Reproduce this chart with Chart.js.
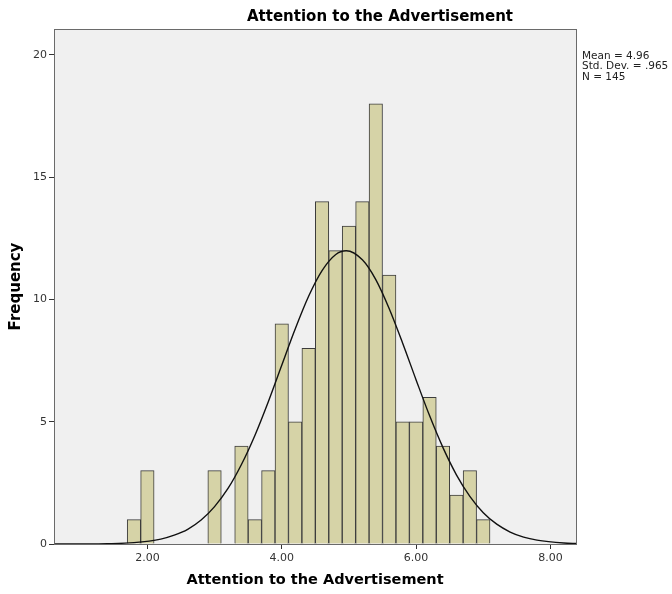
<!DOCTYPE html>
<html>
<head>
<meta charset="utf-8">
<script src="https://cdn.jsdelivr.net/npm/chart.js@4/dist/chart.umd.min.js"></script>
<style>
  html, body { margin: 0; padding: 0; background: #fff; }
  #wrap { width: 672px; height: 594px; }
</style>
</head>
<body>
<div id="wrap"><canvas id="hist"></canvas></div>
<script>
// histogram bins (centre of each 0.2 wide bin) and counts
const binCenters = [1.8, 2.0, 3.0, 3.4, 3.6, 3.8, 4.0, 4.2, 4.4, 4.6, 4.8, 5.0, 5.2, 5.4, 5.6, 5.8, 6.0, 6.2, 6.4, 6.6, 6.8, 7.0];
const binCounts = [1, 3, 3, 4, 1, 3, 9, 5, 8, 14, 12, 13, 14, 18, 11, 5, 5, 6, 4, 2, 3, 1];

// normal curve
const curveX = [0.6, 1.0, 1.4, 1.8, 2.2, 2.4, 2.6, 2.8, 3.0, 3.2, 3.4, 3.6, 3.8, 4.0, 4.2, 4.4, 4.6, 4.8, 4.96, 5.2, 5.4, 5.6, 5.8, 6.0, 6.2, 6.4, 6.6, 6.8, 7.0, 7.2, 7.4, 7.6, 7.8, 8.2, 8.4];
const curveY = [0.0, 0.003, 0.013, 0.056, 0.2, 0.36, 0.6, 0.98, 1.53, 2.27, 3.25, 4.44, 5.82, 7.31, 8.79, 10.13, 11.18, 11.83, 11.99, 11.62, 10.81, 9.62, 8.21, 6.71, 5.25, 3.94, 2.83, 1.95, 1.28, 0.81, 0.49, 0.28, 0.158, 0.043, 0.021];

const xTicks = [2, 4, 6, 8];
const yTicks = [0, 5, 10, 15, 20];
const statLines = ["Mean = 4.96", "Std. Dev. = .965", "N = 145"];
const chartTitle = "Attention to the Advertisement";

const FONT = "'DejaVu Sans', 'Liberation Sans', sans-serif";

const frame = {
  id: "frame",
  beforeDraw(chart) {
    const { ctx, chartArea: a } = chart;
    ctx.save();
    ctx.fillStyle = "#f0f0f0";
    ctx.fillRect(a.left, a.top, a.right - a.left, a.bottom - a.top);
    ctx.restore();
  },
  afterDraw(chart) {
    const { ctx, chartArea: a } = chart;
    ctx.save();
    ctx.strokeStyle = "#6a6a6a";
    ctx.lineWidth = 1;
    ctx.strokeRect(a.left + 0.5, a.top + 0.5, a.right - a.left, a.bottom - a.top);
    // title
    ctx.fillStyle = "#000";
    ctx.font = "bold 15px " + FONT;
    ctx.textAlign = "center";
    ctx.textBaseline = "middle";
    ctx.fillText(chartTitle, 380, 17);
    // stats box
    ctx.fillStyle = "#222";
    ctx.font = "10.5px " + FONT;
    ctx.textAlign = "left";
    statLines.forEach((s, i) => ctx.fillText(s, a.right + 6, 56 + i * 10.5));
    ctx.restore();
  },
};

new Chart(document.getElementById("hist"), {
  data: {
    datasets: [
      {
        type: "line",
        data: curveX.map((x, i) => ({ x, y: curveY[i] })),
        borderColor: "#111",
        borderWidth: 1.4,
        pointRadius: 0,
        cubicInterpolationMode: "monotone",
        order: 0,
      },
      {
        type: "bar",
        data: binCenters.map((x, i) => ({ x, y: binCounts[i] })),
        backgroundColor: "#d6d3a7",
        borderColor: "#3c3c3c",
        borderWidth: 1,
        barPercentage: 1,
        categoryPercentage: 1,
        order: 1,
      },
    ],
  },
  options: {
    responsive: true,
    maintainAspectRatio: false,
    animation: false,
    layout: { padding: { top: 29, right: 96, left: 0, bottom: 0 } },
    plugins: { legend: { display: false }, tooltip: { enabled: false } },
    scales: {
      x: {
        type: "linear",
        offset: false,
        min: 0.61,
        max: 8.38,
        afterBuildTicks: (s) => { s.ticks = xTicks.map((v) => ({ value: v })); },
        afterFit: (s) => { s.height = 50; },
        ticks: {
          callback: (v) => v.toFixed(2),
          font: { family: FONT, size: 11 },
          color: "#333",
          padding: 3,
          maxRotation: 0,
        },
        grid: { offset: false, drawOnChartArea: false, tickLength: 5, color: "#333" },
        border: { color: "#333", width: 1 },
        title: {
          display: true,
          text: "Attention to the Advertisement",
          font: { family: FONT, size: 14.5, weight: "bold" },
          color: "#000",
          padding: { top: 4, bottom: 5 },
        },
      },
      y: {
        min: 0,
        max: 21.06,
        afterBuildTicks: (s) => { s.ticks = yTicks.map((v) => ({ value: v })); },
        afterFit: (s) => { s.width = 54; },
        ticks: {
          font: { family: FONT, size: 11 },
          color: "#333",
          padding: 2,
        },
        grid: { drawOnChartArea: false, tickLength: 5, color: "#333" },
        border: { color: "#333", width: 1 },
        title: {
          display: true,
          text: "Frequency",
          font: { family: FONT, size: 15, weight: "bold" },
          color: "#000",
          padding: { top: 7, bottom: 0 },
        },
      },
    },
  },
  plugins: [frame],
});
</script>
</body>
</html>
